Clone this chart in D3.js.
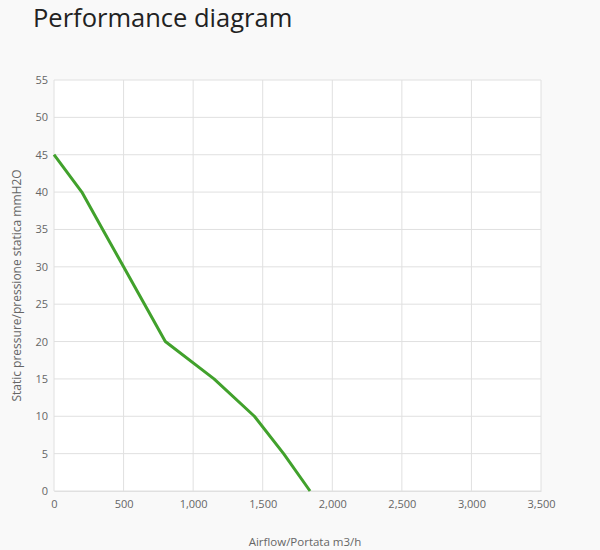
<!DOCTYPE html>
<html>
<head>
<meta charset="utf-8">
<script src="https://cdn.jsdelivr.net/npm/d3@7"></script>
<style>
  html, body { margin: 0; padding: 0; background: #f9f9f9; }
  svg { display: block; }
</style>
</head>
<body>
<svg id="chart" width="600" height="550"></svg>
<script>
const title = "Performance diagram";
const xLabel = "Airflow/Portata m3/h";
const yLabel = "Static pressure/pressione statica mmH2O";
const airflow = [0, 200, 350, 500, 800, 1150, 1440, 1650, 1840];
const pressure = [45, 40, 35, 30, 20, 15, 10, 5, 0];
const xTicks = [0, 500, 1000, 1500, 2000, 2500, 3000, 3500];
const yTicks = [0, 5, 10, 15, 20, 25, 30, 35, 40, 45, 50, 55];

const svg = d3.select("#chart");
const m = { left: 54, right: 541, top: 80, bottom: 491 };

const x = d3.scaleLinear().domain([0, 3500]).range([m.left, m.right]);
const y = d3.scaleLinear().domain([0, 55]).range([m.bottom, m.top]);

svg.append("rect").attr("x", m.left).attr("y", m.top)
  .attr("width", m.right - m.left).attr("height", m.bottom - m.top)
  .attr("fill", "#ffffff");

svg.append("text").attr("x", 33).attr("y", 27)
  .attr("font-family", "'Open Sans', sans-serif").attr("font-size", 25.5)
  .attr("fill", "#222").text(title);

// grid
svg.append("g").selectAll("line").data(yTicks).join("line")
  .attr("x1", m.left).attr("x2", m.right)
  .attr("y1", d => y(d)).attr("y2", d => y(d))
  .attr("stroke", "#e0e0e0").attr("stroke-width", 1);
svg.append("g").selectAll("line").data(xTicks).join("line")
  .attr("y1", m.top).attr("y2", m.bottom)
  .attr("x1", d => x(d)).attr("x2", d => x(d))
  .attr("stroke", "#e0e0e0").attr("stroke-width", 1);

const fmt = d3.format(",");
const xAxis = svg.append("g").attr("transform", `translate(0,${m.bottom})`)
  .call(d3.axisBottom(x).tickValues(xTicks).tickFormat(fmt).tickSize(0).tickPadding(9));
const yAxis = svg.append("g").attr("transform", `translate(${m.left},0)`)
  .call(d3.axisLeft(y).tickValues(yTicks).tickSize(0).tickPadding(6));
[xAxis, yAxis].forEach(a => {
  a.select(".domain").attr("stroke", "#e0e0e0");
  a.selectAll("text").attr("font-family", "'Open Sans', sans-serif")
    .attr("font-size", 11).attr("fill", "#666");
});
yAxis.select(".domain").remove();

svg.append("text").attr("x", 305).attr("y", 546)
  .attr("text-anchor", "middle")
  .attr("font-family", "'Open Sans', sans-serif").attr("font-size", 11.5)
  .attr("fill", "#666").text(xLabel);
svg.append("text")
  .attr("transform", `translate(21,${(m.top + m.bottom) / 2}) rotate(-90)`)
  .attr("text-anchor", "middle")
  .attr("font-family", "'Open Sans', sans-serif").attr("font-size", 12)
  .attr("fill", "#666").text(yLabel);

const pts = airflow.map((a, i) => [a, pressure[i]]);
svg.append("path").datum(pts)
  .attr("fill", "none").attr("stroke", "#41a12c").attr("stroke-width", 3)
  .attr("stroke-linejoin", "round")
  .attr("d", d3.line().x(d => x(d[0])).y(d => y(d[1])));
</script>
</body>
</html>
